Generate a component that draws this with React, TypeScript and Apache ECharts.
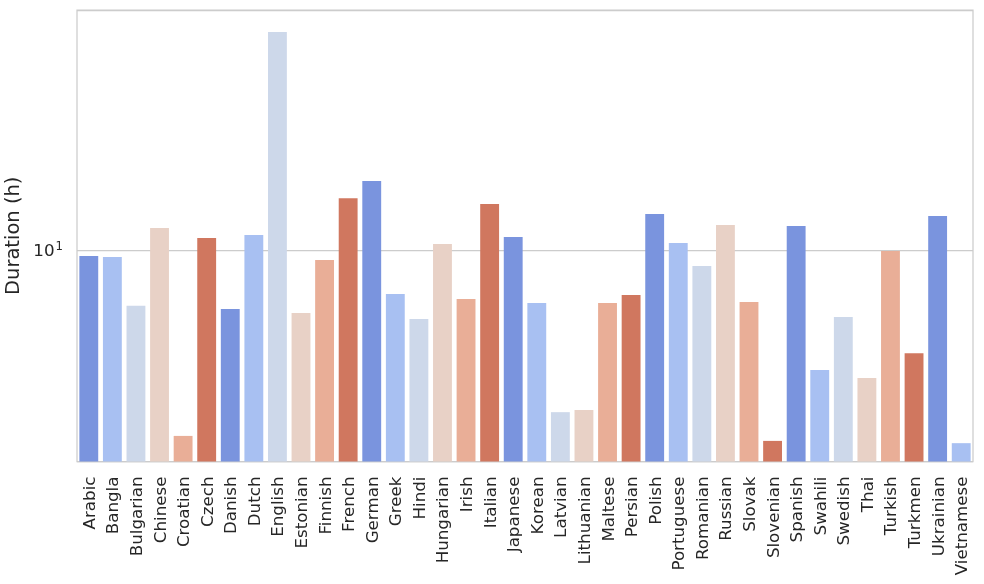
import React, { useEffect, useRef } from "react";
import * as echarts from "echarts";

const languages = [
  "Arabic", "Bangla", "Bulgarian", "Chinese", "Croatian", "Czech", "Danish", "Dutch",
  "English", "Estonian", "Finnish", "French", "German", "Greek", "Hindi", "Hungarian",
  "Irish", "Italian", "Japanese", "Korean", "Latvian", "Lithuanian", "Maltese", "Persian",
  "Polish", "Portuguese", "Romanian", "Russian", "Slovak", "Slovenian", "Spanish", "Swahili",
  "Swedish", "Thai", "Turkish", "Turkmen", "Ukrainian", "Vietnamese",
];

const durations = [
  9.55, 9.48, 6.52, 11.84, 2.4, 10.96, 6.36, 11.22,
  53.3, 6.17, 9.26, 14.87, 16.98, 7.13, 5.89, 10.47,
  6.87, 14.23, 11.05, 6.66, 2.88, 2.93, 6.66, 7.08,
  13.18, 10.55, 8.84, 12.12, 6.71, 2.31, 12.02, 3.98,
  5.98, 3.74, 9.92, 4.53, 12.98, 2.27,
];

const palette = ["#7a94de", "#a8c0f2", "#cdd8ea", "#e8d1c6", "#e9ae97", "#d0775f"];

const yMin = 1.972;
const yMax = 63.1;

export default function App() {
  const ref = useRef<HTMLDivElement>(null);
  useEffect(() => {
    if (!ref.current) return;
    const chart = echarts.init(ref.current, undefined, { renderer: "svg" });
    chart.setOption({
      animation: false,
      textStyle: { fontFamily: "DejaVu Sans" },
      grid: {
        left: 77,
        right: 11,
        top: 10,
        bottom: 122.5,
        containLabel: false,
        outerBoundsMode: "none",
        show: true,
        borderColor: "#cccccc",
        borderWidth: 1.25,
      },
      xAxis: {
        type: "category",
        data: languages,
        axisLine: { show: false },
        axisTick: { show: false },
        axisLabel: {
          rotate: 90,
          interval: 0,
          margin: 15,
          fontSize: 16.7,
          color: "#262626",
          fontFamily: "DejaVu Sans",
        },
      },
      yAxis: {
        type: "log",
        logBase: 10,
        min: yMin,
        max: yMax,
        name: "Duration (h)",
        nameLocation: "middle",
        nameGap: 45,
        nameTextStyle: { fontSize: 19.5, color: "#262626", fontFamily: "DejaVu Sans" },
        axisLine: { show: false },
        axisTick: { show: false },
        splitLine: { show: true, lineStyle: { color: "#cccccc", width: 1.25 } },
        axisLabel: {
          margin: 14,
          color: "#262626",
          showMinLabel: false,
          showMaxLabel: false,
          formatter: (v: number) => (Math.abs(v - 10) < 1e-6 ? "{a|10}{b|1}" : ""),
          rich: {
            a: { fontSize: 16.7, color: "#262626", fontFamily: "DejaVu Sans" },
            b: { fontSize: 11.7, color: "#262626", fontFamily: "DejaVu Sans", padding: [0, 0, 8, 1] },
          },
        },
      },
      series: [
        {
          type: "bar",
          barCategoryGap: "20%",
          data: durations.map((v, i) => ({
            value: v,
            itemStyle: { color: palette[i % palette.length] },
          })),
        },
      ],
    });
    return () => chart.dispose();
  }, []);
  return (
    <div
      ref={ref}
      style={{ position: "fixed", left: 0, top: 0, width: 984, height: 584 }}
    />
  );
}
